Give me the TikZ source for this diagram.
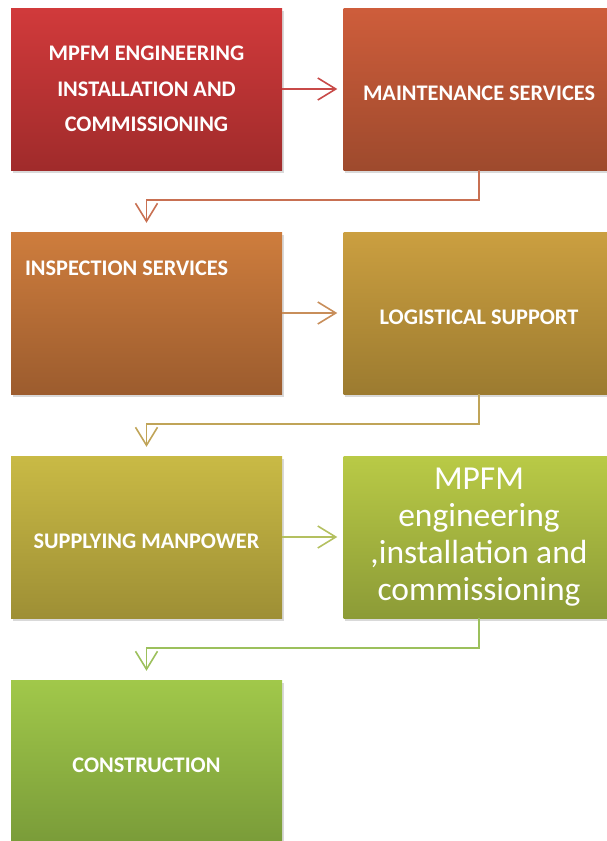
\documentclass[tikz,border=0pt]{standalone}
\usepackage{fontspec}
\setmainfont{Carlito}
\usetikzlibrary{shadows}
\usetikzlibrary{positioning}
\usetikzlibrary{arrows.meta,shapes}
\usetikzlibrary{calc}
\definecolor{mpfmtop}{HTML}{D13A3B}
\definecolor{mpfmbot}{HTML}{A02B2B}
\definecolor{mainttop}{HTML}{CE5D3B}
\definecolor{maintbot}{HTML}{9E4A2D}
\definecolor{insptop}{HTML}{CE7D3D}
\definecolor{inspbot}{HTML}{9C5C2E}
\definecolor{logistop}{HTML}{CB9F40}
\definecolor{logisbot}{HTML}{9C7B30}
\definecolor{supplytop}{HTML}{C9BA45}
\definecolor{supplybot}{HTML}{9E8F35}
\definecolor{engtop}{HTML}{B9CA46}
\definecolor{engbot}{HTML}{8C9B37}
\definecolor{constrtop}{HTML}{A1C84A}
\definecolor{constrbot}{HTML}{7A9C39}
\tikzstyle{stage}=[rectangle,draw=none,minimum width=271pt,minimum height=162pt,inner sep=0pt,text=white,align=center,drop shadow={shadow xshift=1.5pt,shadow yshift=-3pt,opacity=0.3}]
\tikzstyle{caps}=[font=\bfseries\fontsize{22.3}{35.5}\selectfont]
\tikzstyle{oneline}=[text height=22pt,text depth=0pt]
\tikzstyle{lines}=[]
\tikzstyle{link}=[line width=1.6pt,-{Straight Barb[length=18pt,width=22pt,line width=1.6pt]}]

\begin{document}
\begin{tikzpicture}[x=1pt,y=-1pt]

  \def\dx{0};
  \def\dy{0};
  \useasboundingbox (0,0) rectangle (607,841);

   \foreach \x/\y/\name/\ctop/\cbot/\kind/\label in {146.5/89/mpfm/mpfmtop/mpfmbot/lines/{MPFM ENGINEERING\\INSTALLATION AND\\COMMISSIONING},
        479/89/maint/mainttop/maintbot/oneline/{MAINTENANCE SERVICES},
        479/313/logis/logistop/logisbot/oneline/{LOGISTICAL SUPPORT},
        146.5/537/supply/supplytop/supplybot/oneline/{SUPPLYING MANPOWER},
        146.5/761/constr/constrtop/constrbot/oneline/{CONSTRUCTION}}
          \node[stage,caps,\kind,top color=\ctop,bottom color=\cbot] (\name) at (\x+\dx, \y+\dy) {\label};

  \node[stage,top color=insptop,bottom color=inspbot] (insp) at (146.5+\dx, 313+\dy) {};
  \node[caps,text=white,anchor=west,inner sep=0pt] (insptext) at ($(insp.north west)+(14,36)$) {INSPECTION SERVICES};

  \node[stage,top color=engtop,bottom color=engbot,font=\fontsize{33.5}{37}\selectfont] (eng) at (479+\dx, 537+\dy) {MPFM\\engineering\\,installation and\\commissioning};

  \draw[link,color={rgb,255:red,200;green,74;blue,72},shorten >=6pt] (mpfm.east) -- (maint.west);
  \draw[link,color={rgb,255:red,200;green,112;blue,82},shorten >=9pt] (maint.south) -- ++(0,30) -| (insp.north);
  \draw[link,color={rgb,255:red,200;green,142;blue,90},shorten >=6pt] (insp.east) -- (logis.west);
  \draw[link,color={rgb,255:red,192;green,164;blue,88},shorten >=9pt] (logis.south) -- ++(0,30) -| (supply.north);
  \draw[link,color={rgb,255:red,180;green,192;blue,96},shorten >=6pt] (supply.east) -- (eng.west);
  \draw[link,color={rgb,255:red,156;green,192;blue,92},shorten >=9pt] (eng.south) -- ++(0,30) -| (constr.north);

   \end{tikzpicture}
\end{document}
